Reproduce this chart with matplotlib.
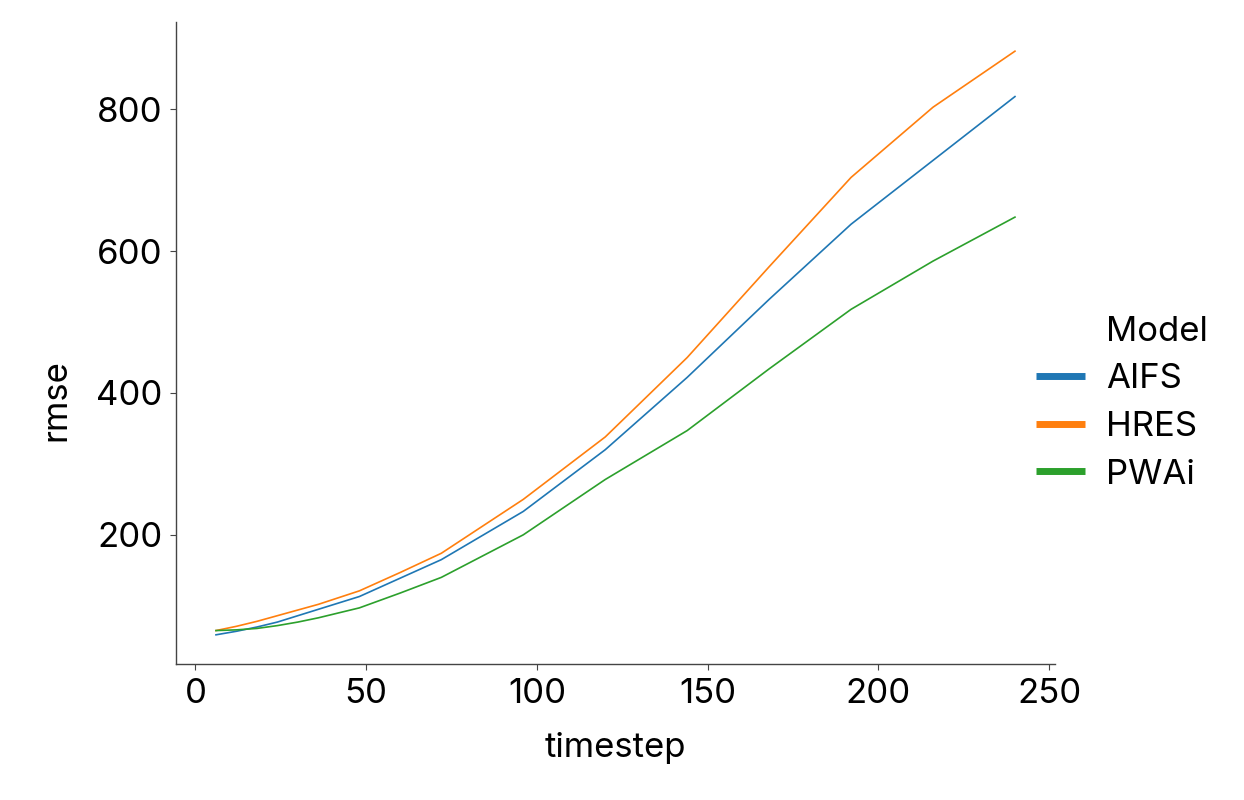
import matplotlib
matplotlib.use("Agg")
import matplotlib.pyplot as plt
from matplotlib.lines import Line2D

timestep = [6, 12, 18, 24, 30, 36, 48, 60, 72, 96, 120, 144, 168, 192, 216, 240]
models = ["AIFS", "HRES", "PWAi"]
aifs = [59, 64, 70, 77, 86, 95, 113, 139, 165, 233, 320, 422, 532, 638, 728, 818]
hres = [65, 71, 78, 86, 94, 102, 121, 147, 174, 250, 338, 450, 578, 704, 803, 882]
pwai = [65, 66, 68, 72, 77, 83, 97, 118, 140, 200, 278, 347, 434, 518, 586, 648]
colors = ["#1f77b4", "#ff7f0e", "#2ca02c"]

plt.rcParams['font.family'] = ['Inter', 'DejaVu Sans']
FS = 25


def main():
    fig = plt.figure(figsize=(12.44, 8), dpi=100)
    ax = fig.add_axes([0.1415, 0.17, 0.7065, 0.8025])

    for name, vals, c in zip(models, [aifs, hres, pwai], colors):
        ax.plot(timestep, vals, color=c, lw=1.2, label=name)

    ax.spines['top'].set_visible(False)
    ax.spines['right'].set_visible(False)
    for s in ['left', 'bottom']:
        ax.spines[s].set_color('#444444')
        ax.spines[s].set_linewidth(1.0)
    ax.tick_params(labelsize=FS, length=4, width=0.8, color='#444444', pad=6)
    ax.set_xticks([0, 50, 100, 150, 200, 250])
    ax.set_yticks([200, 400, 600, 800])
    ax.set_xlabel('timestep', fontsize=FS, labelpad=16)
    ax.set_ylabel('rmse', fontsize=FS)
    ax.yaxis.set_label_coords(-0.118, 0.411)

    # seaborn style legend: hue name as first entry
    handles = [Line2D([], [], color='none')]
    labels = ['Model']
    for name, c in zip(models, colors):
        handles.append(Line2D([], [], color=c, lw=5, solid_capstyle='butt'))
        labels.append(name)
    fig.legend(handles, labels, loc='center left', bbox_to_anchor=(0.808, 0.496),
               frameon=False, fontsize=FS, handlelength=1.4, handletextpad=0.6,
               labelspacing=0.45)

    fig.savefig('out.png', dpi=100)


if __name__ == "__main__":
    main()
